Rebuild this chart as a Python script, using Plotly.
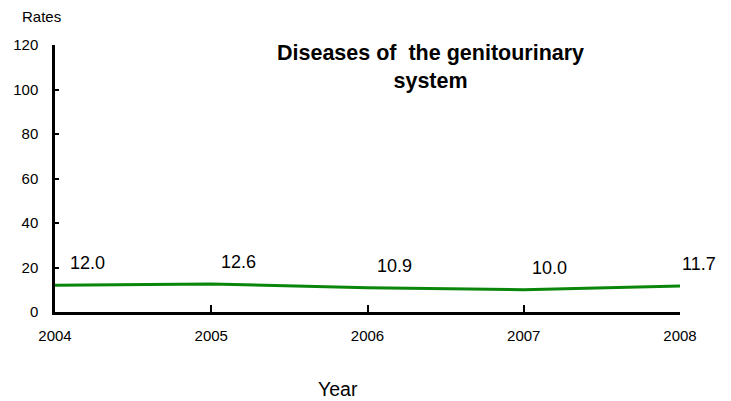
import plotly.graph_objects as go

years = [2004, 2005, 2006, 2007, 2008]
rates = [12.0, 12.6, 10.9, 10.0, 11.7]
labels = ["12.0", "12.6", "10.9", "10.0", "11.7"]
y_ticks = [0, 20, 40, 60, 80, 100, 120]
title_text = "Diseases of\u00a0 the genitourinary<br>system"
x_title = "Year"
y_title = "Rates"

# label placement offsets (pixels) relative to each point
label_dx = [32, 27, 27, 26, 19]
label_dy = 22

# The page body has an 8px margin, so the figure is sized to fit the window.
W, H = 723, 393
L, R, T, B = 47, 51, 37, 89
PW, PH = W - L - R, H - T - B


def px_to_paper(x, y):
    # x, y in window pixels
    fx, fy = x - 8, y - 8
    return (fx - L) / PW, (H - B - fy) / PH


FONT = "Liberation Sans, Arial, sans-serif"

fig = go.Figure()
fig.add_trace(go.Scatter(x=years, y=rates, mode="lines",
                         line=dict(color="#0a860a", width=3), hoverinfo="skip"))

for x, y, t, dx in zip(years, rates, labels, label_dx):
    fig.add_annotation(x=x, y=y, text=t, showarrow=False, xshift=dx, yshift=label_dy,
                       font=dict(family=FONT, size=18, color="black"))

tx, ty = px_to_paper(430, 39)
fig.add_annotation(x=tx, y=ty, xref="paper", yref="paper", text="<b>" + title_text + "</b>",
                   showarrow=False, xanchor="center", yanchor="top",
                   font=dict(family=FONT, size=21.5, color="black"))
rx, ry = px_to_paper(41, 16.5)
fig.add_annotation(x=rx, y=ry, xref="paper", yref="paper", text=y_title, showarrow=False,
                   xanchor="center", yanchor="middle", font=dict(family=FONT, size=15, color="black"))
yx, yy = px_to_paper(338, 389)
fig.add_annotation(x=yx, y=yy, xref="paper", yref="paper", text=x_title, showarrow=False,
                   xanchor="center", yanchor="middle", font=dict(family=FONT, size=19.5, color="black"))

fig.update_layout(
    width=W, height=H,
    margin=dict(l=L, r=R, t=T, b=B, autoexpand=False),
    paper_bgcolor="white", plot_bgcolor="white",
    showlegend=False,
    font=dict(family=FONT, size=15, color="black"),
    xaxis=dict(range=[2004, 2008], tickvals=years, ticktext=[str(y) for y in years],
               showgrid=False, zeroline=False, showline=True, linecolor="black", linewidth=2.5,
               ticks="inside", ticklen=7, tickwidth=2, tickcolor="black",
               tickfont=dict(size=15), ticklabelstandoff=8, automargin=False),
    yaxis=dict(range=[0, 120], tickvals=y_ticks, showgrid=False, zeroline=False,
               showline=True, linecolor="black", linewidth=2.5,
               ticks="inside", ticklen=4, tickwidth=2, tickcolor="black",
               tickfont=dict(size=15), ticklabelstandoff=11, automargin=False),
)

fig.write_html("out.html")
